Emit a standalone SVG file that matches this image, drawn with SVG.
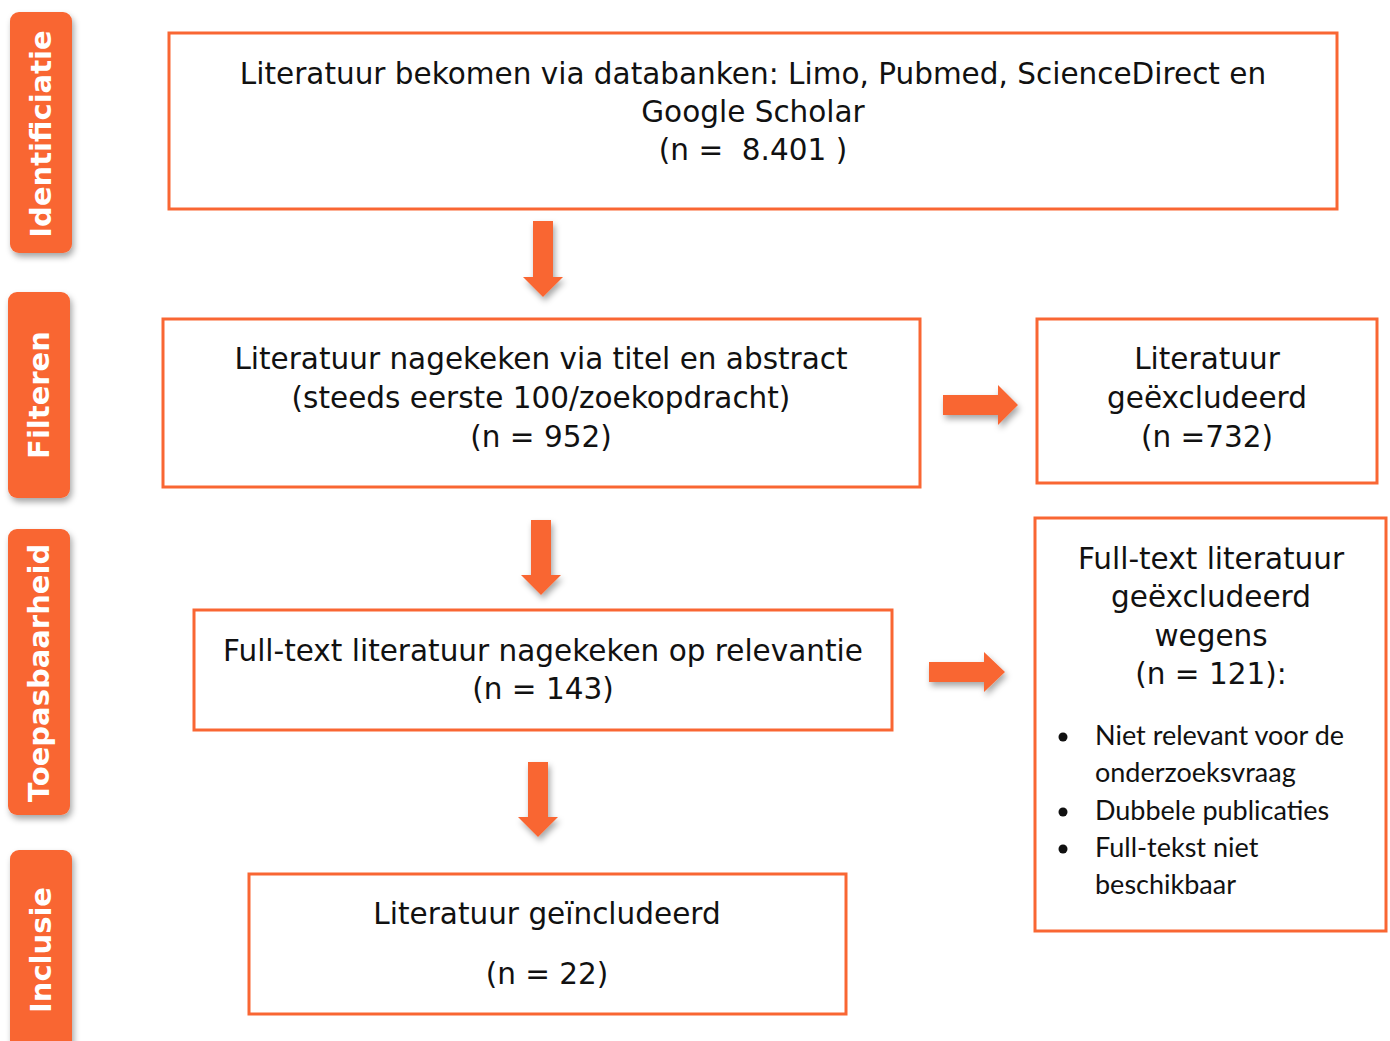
<svg xmlns="http://www.w3.org/2000/svg" width="1390" height="1041" viewBox="0 0 1390 1041">
<defs>
<filter id="sh" x="-30%" y="-30%" width="160%" height="160%">
<feDropShadow dx="2" dy="4" stdDeviation="3" flood-color="#000" flood-opacity="0.35"/>
</filter>
<style>
.box{fill:#fff;stroke:#F96633;stroke-width:3}
.lab{fill:#F96633}
.lt{font-family:"DejaVu Sans",Verdana,sans-serif;font-weight:bold;font-size:29px;fill:#fff;text-anchor:middle}
.t{font-family:"DejaVu Sans",Verdana,sans-serif;font-size:29.5px;fill:#111;text-anchor:middle;white-space:pre}
.b{font-family:Lato,"Open Sans",sans-serif;font-size:27px;fill:#111}
.arr{fill:#F96633}
</style>
</defs>
<rect width="1390" height="1041" fill="#fff"/>

<g id="label-identificatie">
<rect class="lab" x="10" y="12" width="62" height="241" rx="9" filter="url(#sh)"/>
<text class="lt" transform="translate(51,134) rotate(-90)">Identificiatie</text>
</g>
<g id="label-filteren">
<rect class="lab" x="8" y="292" width="62" height="206" rx="9" filter="url(#sh)"/>
<text class="lt" transform="translate(49,395) rotate(-90)">Filteren</text>
</g>
<g id="label-toepasbaarheid">
<rect class="lab" x="8" y="529" width="62" height="286" rx="9" filter="url(#sh)"/>
<text class="lt" transform="translate(49,673) rotate(-90)">Toepasbaarheid</text>
</g>
<g id="label-inclusie">
<rect class="lab" x="10" y="850" width="62" height="210" rx="9" filter="url(#sh)"/>
<text class="lt" transform="translate(51,950) rotate(-90)">Inclusie</text>
</g>

<g id="connectors">
<path class="arr" filter="url(#sh)" d="M533,221 H553 V277 H563 L543,297 L523,277 H533 Z"/>
<path class="arr" filter="url(#sh)" d="M531,520 H551 V575 H561 L541,595 L521,575 H531 Z"/>
<path class="arr" filter="url(#sh)" d="M528,762 H548 V817 H558 L538,837 L518,817 H528 Z"/>
<path class="arr" filter="url(#sh)" d="M943,395 H998 V385 L1018,405 L998,425 V415 H943 Z"/>
<path class="arr" filter="url(#sh)" d="M929,662 H984 V652 L1005,672 L984,692 V682 H929 Z"/>
</g>

<g id="node-identificatie">
<rect class="box" x="169" y="33" width="1168" height="176"/>
<text class="t" x="753" y="84">Literatuur bekomen via databanken: Limo, Pubmed, ScienceDirect en</text>
<text class="t" x="753" y="122">Google Scholar</text>
<text class="t" x="753" y="160">(n =  8.401 )</text>
</g>

<g id="node-filteren">
<rect class="box" x="163" y="319" width="757" height="168"/>
<text class="t" x="541" y="369">Literatuur nagekeken via titel en abstract</text>
<text class="t" x="541" y="408">(steeds eerste 100/zoekopdracht)</text>
<text class="t" x="541" y="447">(n = 952)</text>
</g>

<g id="node-excluded1">
<rect class="box" x="1037" y="319" width="340" height="164"/>
<text class="t" x="1207" y="369">Literatuur</text>
<text class="t" x="1207" y="408">geëxcludeerd</text>
<text class="t" x="1207" y="447">(n =732)</text>
</g>

<g id="node-fulltext">
<rect class="box" x="194" y="610" width="698" height="120"/>
<text class="t" x="543" y="661">Full-text literatuur nagekeken op relevantie</text>
<text class="t" x="543" y="699">(n = 143)</text>
</g>

<g id="node-excluded2">
<rect class="box" x="1035" y="518" width="351" height="413"/>
<text class="t" x="1211" y="569">Full-text literatuur</text>
<text class="t" x="1211" y="607">geëxcludeerd</text>
<text class="t" x="1211" y="646">wegens</text>
<text class="t" x="1211" y="684">(n = 121):</text>
<circle cx="1063" cy="737" r="4.5" fill="#111"/>
<circle cx="1063" cy="812" r="4.5" fill="#111"/>
<circle cx="1063" cy="849" r="4.5" fill="#111"/>
<text class="b" x="1095" y="745">Niet relevant voor de</text>
<text class="b" x="1095" y="782">onderzoeksvraag</text>
<text class="b" x="1095" y="820">Dubbele publicaties</text>
<text class="b" x="1095" y="857">Full-tekst niet</text>
<text class="b" x="1095" y="894">beschikbaar</text>
</g>

<g id="node-inclusie">
<rect class="box" x="249" y="874" width="597" height="140"/>
<text class="t" x="547" y="924">Literatuur geïncludeerd</text>
<text class="t" x="547" y="984">(n = 22)</text>
</g>
</svg>
